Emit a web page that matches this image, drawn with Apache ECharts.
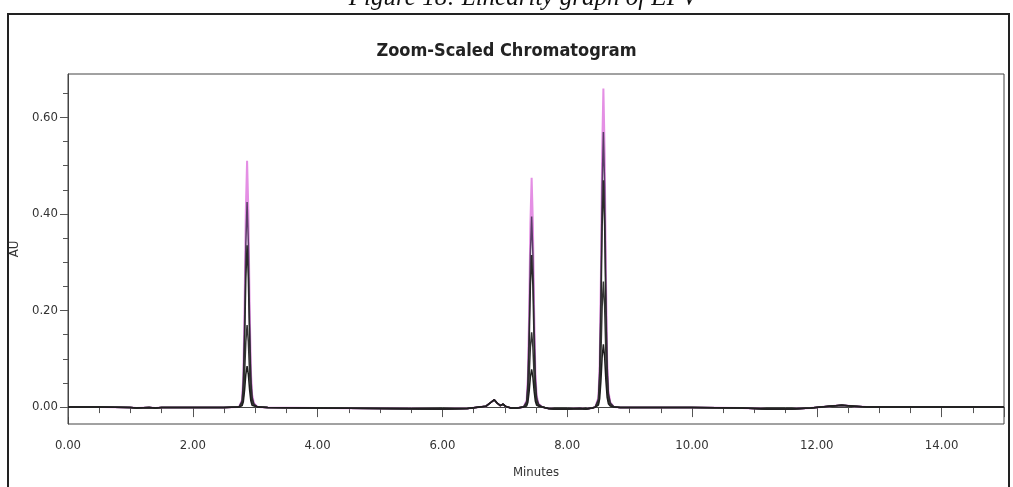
<!DOCTYPE html>
<html>
<head>
<meta charset="utf-8">
<script src="https://cdn.jsdelivr.net/npm/echarts@6/dist/echarts.min.js"></script>
<style>
html,body{margin:0;padding:0;background:#fff;}
#chart{width:1013px;height:487px;}
</style>
</head>
<body>
<div id="chart"></div>
<script>
// ---- data ----
var captionText = 'Figure 18: Linearity graph of EPV';
var titleText = 'Zoom-Scaled Chromatogram';
var xTickLabels = [0, 2, 4, 6, 8, 10, 12, 14];
var yTickLabels = [0, 0.2, 0.4, 0.6];
var yMinorTicks = [0.05, 0.1, 0.15, 0.25, 0.3, 0.35, 0.45, 0.5, 0.55, 0.65];

// baseline segments [minutes, AU]
var baseA = [[0,0],[0.5,0],[1.0,-0.001],[1.1,-0.002],[1.3,-0.001],[1.4,-0.002],[1.5,-0.001],[2.0,-0.001],[2.5,-0.001]];
var baseB = [[3.2,-0.001],[4.0,-0.002],[5.0,-0.003],[6.0,-0.004],[6.4,-0.003],[6.7,0.002],[6.78,0.01],[6.83,0.015],[6.88,0.008],[6.93,0.003],[6.97,0.006],[7.02,0.001],[7.1,-0.002],[7.2,-0.002]];
var baseC = [[7.7,-0.003],[7.8,-0.004],[8.0,-0.004],[8.2,-0.003],[8.3,-0.004],[8.4,-0.002]];
var baseD = [[8.85,-0.001],[9.0,-0.001],[10.0,-0.001],[10.8,-0.002],[11.2,-0.004],[11.6,-0.004],[11.9,-0.002],[12.2,0.002],[12.4,0.004],[12.6,0.002],[12.8,0],[15,0]];

// peak retention-time grids
var p1Times = [2.74, 2.79, 2.81, 2.83, 2.85, 2.87, 2.89, 2.91, 2.93, 2.95, 2.98, 3.04];
var p2Times = [7.30, 7.35, 7.37, 7.39, 7.41, 7.43, 7.45, 7.47, 7.49, 7.51, 7.54, 7.60];
var p3Times = [8.45, 8.50, 8.52, 8.54, 8.56, 8.58, 8.60, 8.62, 8.64, 8.66, 8.69, 8.75];

// peak values per trace (level 1 = highest)
var p1Level1 = [0, 0.015, 0.066, 0.209, 0.408, 0.51, 0.408, 0.214, 0.077, 0.026, 0.008, 0];
var p1Level2 = [0, 0.013, 0.055, 0.174, 0.34, 0.425, 0.34, 0.179, 0.064, 0.021, 0.006, 0];
var p1Level3 = [0, 0.010, 0.044, 0.137, 0.268, 0.335, 0.268, 0.141, 0.050, 0.017, 0.005, 0];
var p1Level4 = [0, 0.005, 0.022, 0.070, 0.136, 0.17, 0.136, 0.071, 0.026, 0.009, 0.003, 0];
var p1Level5 = [0, 0.003, 0.011, 0.035, 0.068, 0.085, 0.068, 0.036, 0.013, 0.004, 0.001, 0];

var p2Level1 = [0, 0.014, 0.062, 0.195, 0.38, 0.475, 0.38, 0.2, 0.071, 0.024, 0.007, 0];
var p2Level2 = [0, 0.012, 0.051, 0.162, 0.316, 0.395, 0.316, 0.166, 0.059, 0.020, 0.006, 0];
var p2Level3 = [0, 0.009, 0.041, 0.129, 0.252, 0.315, 0.252, 0.132, 0.047, 0.016, 0.005, 0];
var p2Level4 = [0, 0.005, 0.020, 0.064, 0.124, 0.155, 0.124, 0.065, 0.023, 0.008, 0.002, 0];
var p2Level5 = [0, 0.002, 0.010, 0.032, 0.062, 0.078, 0.062, 0.033, 0.012, 0.004, 0.001, 0];

var p3Level1 = [0, 0.020, 0.086, 0.271, 0.528, 0.66, 0.528, 0.277, 0.099, 0.033, 0.010, 0];
var p3Level2 = [0, 0.017, 0.074, 0.234, 0.456, 0.57, 0.456, 0.239, 0.086, 0.029, 0.009, 0];
var p3Level3 = [0, 0.014, 0.061, 0.193, 0.376, 0.47, 0.376, 0.197, 0.071, 0.024, 0.007, 0];
var p3Level4 = [0, 0.008, 0.034, 0.107, 0.208, 0.26, 0.208, 0.109, 0.039, 0.013, 0.004, 0];
var p3Level5 = [0, 0.004, 0.017, 0.053, 0.104, 0.13, 0.104, 0.055, 0.020, 0.007, 0.002, 0];

var traceNames = ['Level 1', 'Level 2', 'Level 3', 'Level 4', 'Level 5'];
var traceColors = ['#e48fe4', '#5b3d68', '#2a2a2a', '#333333', '#1e1e1e'];

// ---- build ----
function pair(times, vals) { return times.map(function (t, i) { return [t, vals[i]]; }); }
function trace(a, b, c) {
  return [].concat(baseA, pair(p1Times, a), baseB, pair(p2Times, b), baseC, pair(p3Times, c), baseD);
}
var traceData = [
  trace(p1Level1, p2Level1, p3Level1),
  trace(p1Level2, p2Level2, p3Level2),
  trace(p1Level3, p2Level3, p3Level3),
  trace(p1Level4, p2Level4, p3Level4),
  trace(p1Level5, p2Level5, p3Level5)
];

var narrow = '"Liberation Sans Narrow", "Arial Narrow", "DejaVu Sans Condensed", sans-serif';

var chart = echarts.init(document.getElementById('chart'), null, { renderer: 'canvas' });
var option = {
  animation: false,
  backgroundColor: '#ffffff',
  title: {
    text: titleText,
    left: 'center',
    top: 37,
    textStyle: { fontFamily: narrow, fontSize: 18, fontWeight: 'bold', color: '#222' }
  },
  grid: {
    left: 67, right: 9, top: 74, bottom: 63,
    show: true, borderColor: '#444', borderWidth: 1, backgroundColor: '#fff'
  },
  xAxis: {
    type: 'value', min: 0, max: 15, interval: 2,
    name: 'Minutes', nameLocation: 'middle', nameGap: 42,
    nameTextStyle: { fontFamily: narrow, fontSize: 13, color: '#333' },
    axisLine: { show: true, lineStyle: { color: '#444', width: 1 } },
    axisTick: { show: true, length: 10, lineStyle: { color: '#555' } },
    minorTick: { show: true, splitNumber: 4, length: 6, lineStyle: { color: '#555' } },
    axisLabel: {
      margin: 15, fontFamily: narrow, fontSize: 13, color: '#333',
      formatter: function (v) { return xTickLabels.indexOf(v) >= 0 ? v.toFixed(2) : ''; }
    },
    splitLine: { show: false }
  },
  yAxis: [{
    type: 'value', min: -0.035, max: 0.69,
    name: 'AU', nameLocation: 'middle', nameGap: 47,
    nameTextStyle: { fontFamily: narrow, fontSize: 13, color: '#333' },
    axisLine: { show: true, lineStyle: { color: '#444', width: 1 } },
    axisTick: { show: true, length: 8, customValues: yTickLabels, lineStyle: { color: '#555' } },
    axisLabel: {
      margin: 10, fontFamily: narrow, fontSize: 13, color: '#333',
      customValues: yTickLabels,
      formatter: function (v) { return v.toFixed(2); }
    },
    splitLine: { show: false }
  }, {
    type: 'value', min: -0.035, max: 0.69, position: 'left',
    axisLine: { show: false },
    axisTick: { show: true, length: 5, customValues: yMinorTicks, lineStyle: { color: '#555' } },
    axisLabel: { show: false },
    splitLine: { show: false }
  }],
  series: traceData.map(function (d, i) {
    return {
      name: traceNames[i],
      type: 'line',
      data: d,
      showSymbol: false,
      symbol: 'none',
      z: 2 + i,
      lineStyle: { color: traceColors[i], width: i === 0 ? 2 : 1.5 },
      silent: true
    };
  }),
  graphic: [
    {
      type: 'rect',
      shape: { x: 8, y: 14, width: 1001, height: 500 },
      style: { fill: 'none', stroke: '#222', lineWidth: 2 },
      silent: true, z: 100
    },
    {
      type: 'text',
      x: 523, y: 11,
      style: {
        text: captionText, textAlign: 'center', textVerticalAlign: 'bottom',
        font: 'italic 25px "Liberation Serif", "Times New Roman", serif', fill: '#111'
      },
      silent: true, z: 100
    }
  ]
};
chart.setOption(option);
</script>
</body>
</html>
